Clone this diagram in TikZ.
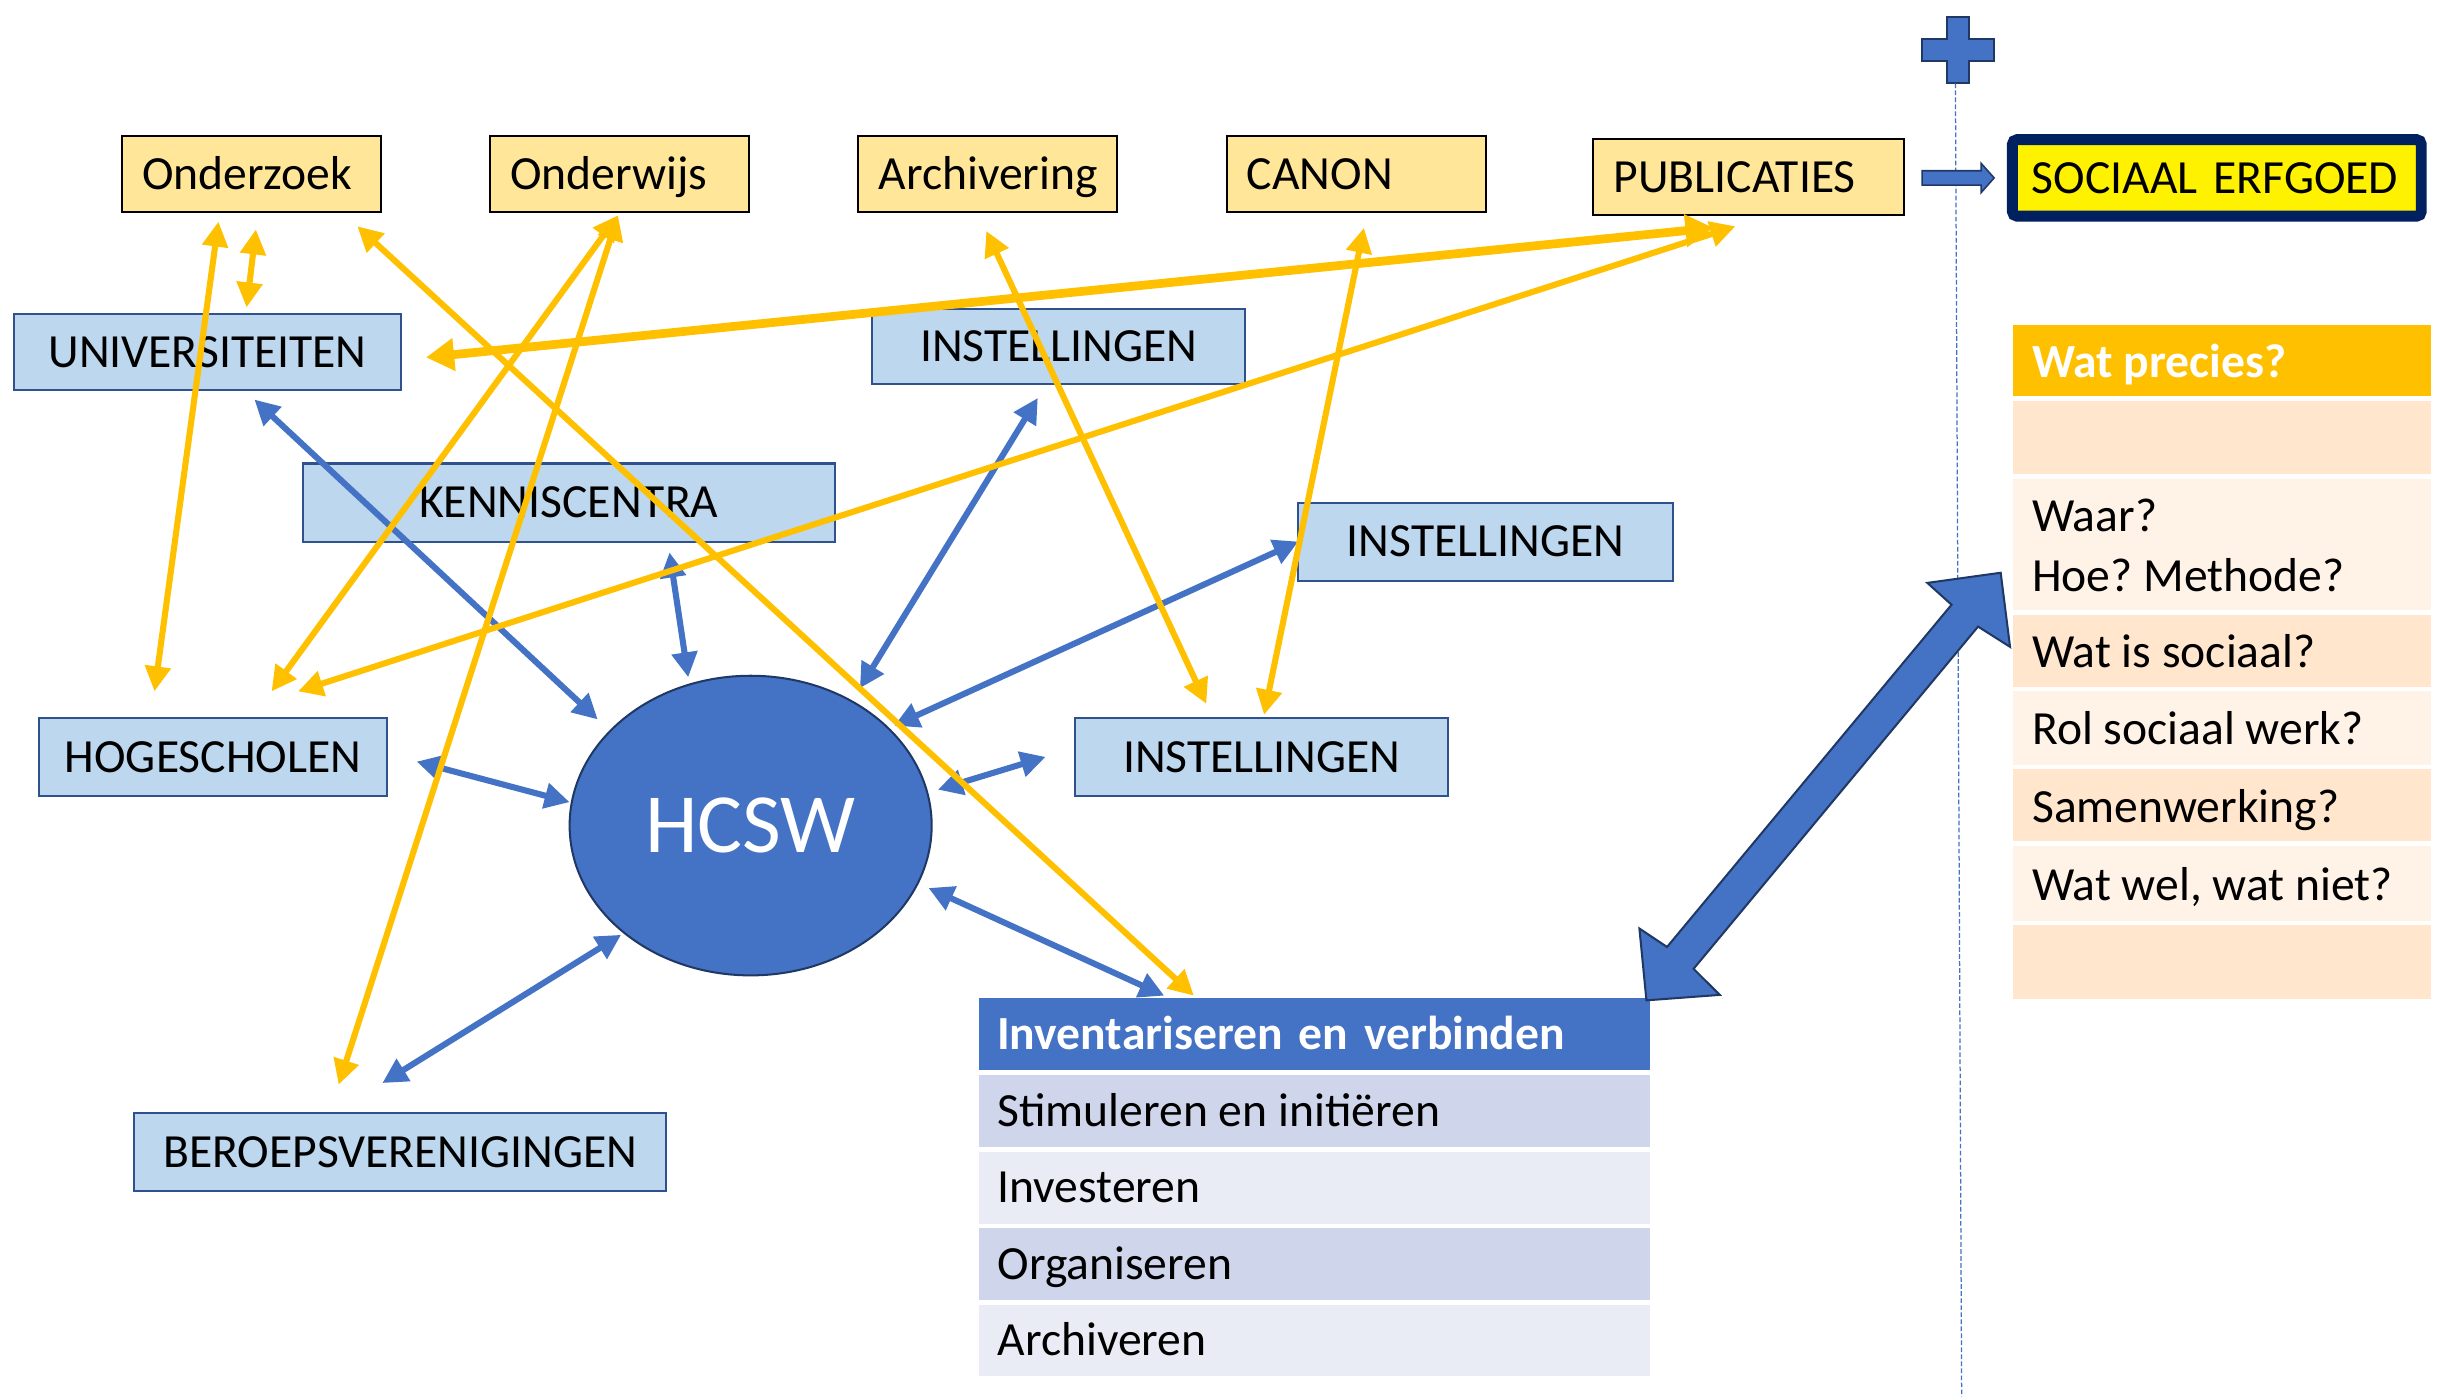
\documentclass[tikz,border=0pt]{standalone}
\usepackage{fontspec}
\setmainfont{Carlito}
\usetikzlibrary{arrows.meta,calc,shapes.geometric}
\definecolor{yfill}{HTML}{FFE699}
\definecolor{lblue}{HTML}{BDD7EE}
\definecolor{bborder}{HTML}{2F528F}
\definecolor{accent}{HTML}{4472C4}
\definecolor{gold}{HTML}{FFC000}
\definecolor{navy}{HTML}{002060}
\definecolor{rowA}{HTML}{CFD5EA}
\definecolor{rowB}{HTML}{E9EBF5}
\definecolor{peachA}{HTML}{FFE6CC}
\definecolor{peachB}{HTML}{FFF2E6}
\definecolor{darkblue}{HTML}{203864}
\newcommand\fsz{\fontsize{30.5}{38}\selectfont}
\frenchspacing
\begin{document}
\begin{tikzpicture}[x=1pt,y=-1pt,
  ybox/.style={draw=black, line width=1.3pt, fill=yfill, minimum height=49pt, inner xsep=13pt, inner ysep=0pt, align=left, font=\fsz, text height=19.6pt, text depth=0pt},
  bbox/.style={draw=bborder, line width=1.3pt, fill=lblue, minimum height=49pt, inner sep=0pt, font=\fsz, text height=19.6pt, text depth=0pt},
  blarrow/.style={draw=accent, line width=3.9pt, {Triangle[length=16pt,width=16pt]}-{Triangle[length=16pt,width=16pt]}},
  ylarrow/.style={draw=gold, line width=3.9pt, {Triangle[length=16pt,width=16pt]}-{Triangle[length=16pt,width=16pt]}},
  ylthick/.style={draw=gold, line width=5.6pt, {Triangle[length=18pt,width=20pt]}-{Triangle[length=18pt,width=20pt]}},
  celltext/.style={anchor=west, inner sep=0pt, font=\fsz, text height=19.6pt, text depth=0pt},
]
\useasboundingbox (0,0) rectangle (1568,895);
\fill[white] (0,0) rectangle (1568,895);

% top yellow boxes
\node[ybox, text width=140pt] (ondz) at (161,111.5) {Onderzoek};
\node[ybox, text width=140pt] (ondw) at (397,111.5) {Onderwijs};
\node[ybox, text width=140pt] (arch) at (633,111.5) {Archivering};
\node[ybox, text width=140pt] (canon) at (869,111.5) {CANON};
\node[ybox, text width=173pt] (publ) at (1120.5,113.5) {PUBLICATIES};

% blue boxes
\node[bbox, minimum width=248pt] (univ) at (133,225.5) {UNIVERSITEITEN};
\node[bbox, minimum width=239pt, minimum height=48pt] (inst1) at (678.5,222) {INSTELLINGEN};
\node[bbox, minimum width=341pt, minimum height=50pt] (kenn) at (364.5,322) {KENNISCENTRA};
\node[bbox, minimum width=240pt, minimum height=50pt] (inst2) at (952,347) {INSTELLINGEN};
\node[bbox, minimum width=223pt, minimum height=50pt] (hoge) at (136.5,485) {HOGESCHOLEN};
\node[bbox, minimum width=239pt, minimum height=50pt] (inst3) at (808.5,485) {INSTELLINGEN};
\node[bbox, minimum width=341pt, minimum height=50pt] (beroep) at (256.5,738) {BEROEPSVERENIGINGEN};

% HCSW
\node[ellipse, draw=darkblue, line width=1.3pt, fill=accent, minimum width=232pt, minimum height=192pt, inner sep=0pt, text=white, font=\fontsize{54}{60}\selectfont, text height=35pt, text depth=0pt] (hcsw) at (481,529) {HCSW};

% left table
\node[fill=accent, minimum width=430pt, minimum height=46pt, inner xsep=12pt, inner ysep=0pt, text width=406pt, align=left, text=white, font=\fsz\bfseries, text height=19.6pt, text depth=0pt] (inv) at (842,662.5) {Inventariseren en verbinden};
\fill[rowA] (627,689) rectangle (1057,735);
\fill[rowB] (627,738) rectangle (1057,784);
\fill[rowA] (627,787) rectangle (1057,833);
\fill[rowB] (627,836) rectangle (1057,882);
\node[celltext] (stim) at (639,712) {Stimuleren en initiëren};
\node[celltext] (inve) at (639,761) {Investeren};
\node[celltext] (orga) at (639,810) {Organiseren};
\node[celltext] (archv) at (639,859) {Archiveren};

% right table
\fill[gold] (1290,208) rectangle (1558,254);
\fill[peachA] (1290,257) rectangle (1558,304);
\fill[peachB] (1290,307) rectangle (1558,391);
\fill[peachA] (1290,394) rectangle (1558,440);
\fill[peachB] (1290,443) rectangle (1558,490);
\fill[peachA] (1290,493) rectangle (1558,539);
\fill[peachB] (1290,542) rectangle (1558,590);
\fill[peachA] (1290,593) rectangle (1558,640);
\node[celltext, text=white, font=\fsz\bfseries] (wat) at (1302,232) {Wat precies?};
\node[celltext] (waar) at (1302,331) {Waar?};
\node[celltext] (hoe) at (1302,369) {Hoe? Methode?};
\node[celltext] (soci) at (1302,418) {Wat is sociaal?};
\node[celltext] (rol) at (1302,467.5) {Rol sociaal werk?};
\node[celltext] (samen) at (1302,517) {Samenwerking?};
\node[celltext] (wel) at (1302,567) {Wat wel, wat niet?};

% SOCIAAL ERFGOED
\node[draw=navy, line width=7pt, fill=yellow, rounded corners=3pt, minimum width=262pt, minimum height=49pt, inner xsep=12.5pt, inner ysep=0pt, text width=237pt, align=left, font=\fsz, text height=19.6pt, text depth=0pt] (soc) at (1420.5,114) {SOCIAAL ERFGOED};

% plus sign and dashed line
\filldraw[fill=accent, draw=darkblue, line width=1.3pt] (1247.6,10.7) -- (1261.7,10.7) -- (1261.7,25.2) -- (1277.5,25.2) -- (1277.5,39.1) -- (1261.7,39.1) -- (1261.7,53.4) -- (1247.6,53.4) -- (1247.6,39.1) -- (1231.6,39.1) -- (1231.6,25.2) -- (1247.6,25.2) -- cycle;
\coordinate (plusbot) at (1253,53.4);
\coordinate (lineend) at (1257,895);
\draw[accent, line width=0.8pt, dash pattern=on 3pt off 1.5pt] (plusbot) -- (lineend);

% small block arrow PUBLICATIES -> SOCIAAL ERFGOED
\filldraw[fill=accent, draw=darkblue, line width=1pt] (1231.6,109.4) -- (1269.4,109.4) -- (1269.4,104.6) -- (1277.8,114) -- (1269.4,123.5) -- (1269.4,118.6) -- (1231.6,118.6) -- cycle;

% blue connectors
\draw[blarrow] ([shift={(30,30.5)}]univ.center) -- ([shift={(-98,-68)}]hcsw.center);
\draw[blarrow] ([shift={(64.5,32)}]kenn.center) -- ([shift={(-40,-95)}]hcsw.center);
\draw[blarrow] ([shift={(-13.5,33)}]inst1.center) -- ([shift={(70,-88)}]hcsw.center);
\draw[blarrow] ([shift={(-120,0)}]inst2.center) -- ([shift={(92,-64)}]hcsw.center);
\draw[blarrow] ([shift={(130.5,3)}]hoge.center) -- ([shift={(-116,-15)}]hcsw.center);
\draw[blarrow] ([shift={(-138.5,0)}]inst3.center) -- ([shift={(120,-23)}]hcsw.center);
\draw[blarrow] ([shift={(-11.5,-44)}]beroep.center) -- ([shift={(-83,70)}]hcsw.center);
\draw[blarrow] ([shift={(114,40)}]hcsw.center) -- ([shift={(-96,-24.5)}]inv.center);

% yellow connectors
\draw[ylarrow] ([shift={(-21,30.5)}]ondz.center) -- ([shift={(-37.5,-42)}]hoge.center);
\draw[ylarrow] ([shift={(3,35.5)}]ondz.center) -- ([shift={(25,-28.5)}]univ.center);
\draw[ylarrow] ([shift={(68,33.5)}]ondz.center) -- ([shift={(-77,-24.5)}]inv.center);
\draw[ylarrow] ([shift={(-1,26.5)}]ondw.center) -- ([shift={(37.5,-42)}]hoge.center);
\draw[ylarrow] ([shift={(-1,26.5)}]ondw.center) -- ([shift={(-39.5,-43)}]beroep.center);
\draw[ylarrow] ([shift={(-1,36.5)}]arch.center) -- ([shift={(-35.5,-34)}]inst3.center);
\draw[ylarrow] ([shift={(5,34.5)}]canon.center) -- ([shift={(1.5,-27)}]inst3.center);
\draw[ylthick] ([shift={(-22.5,32.5)}]publ.center) -- ([shift={(140,3.5)}]univ.center);
\draw[ylarrow] ([shift={(-8.5,31.5)}]publ.center) -- ([shift={(54.5,-42)}]hoge.center);

% big double block arrow
\filldraw[fill=accent, draw=darkblue, line width=1.3pt] (1282,367) -- (1288,414.5) -- (1267.5,401.5) -- (1085.2,620.8) -- (1102,637.5) -- (1055,641) -- (1050.5,595) -- (1068.2,606.8) -- (1250.5,387.5) -- (1235,373.5) -- cycle;
\end{tikzpicture}
\end{document}
